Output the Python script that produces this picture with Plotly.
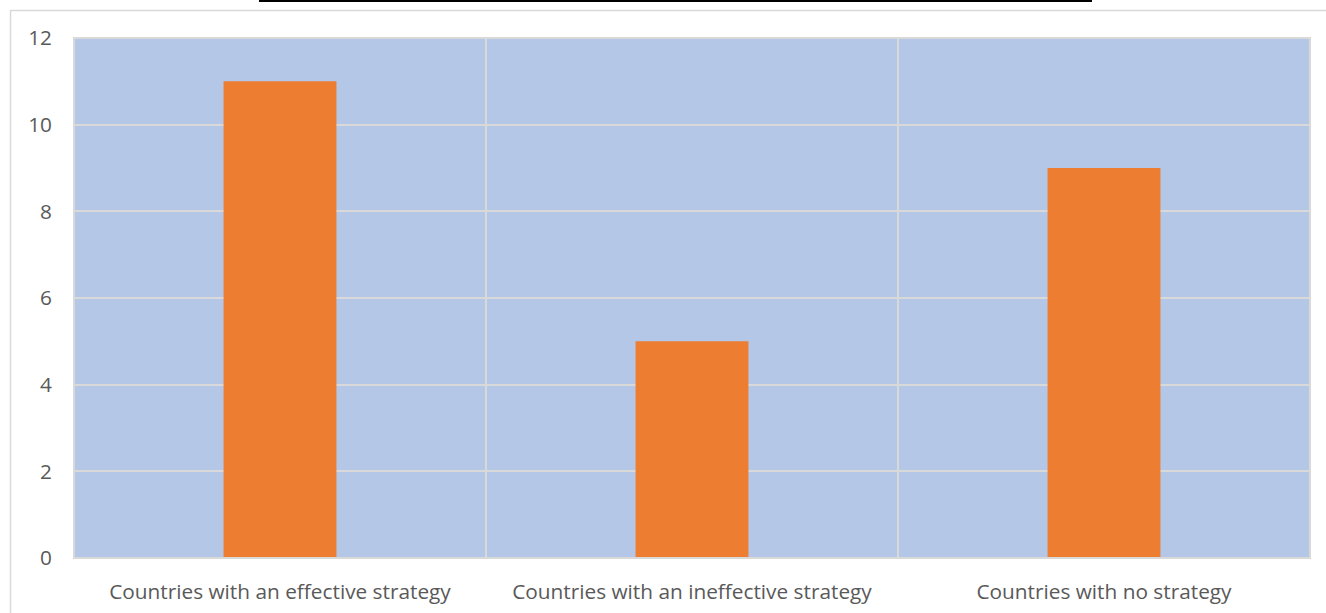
import plotly.graph_objects as go

categories = [
    "Countries with an effective strategy",
    "Countries with an ineffective strategy",
    "Countries with no strategy",
]
values = [11, 5, 9]
y_ticks = [0, 2, 4, 6, 8, 10, 12]

W, H = 1326, 613
ML, MR, MT, MB = 74, 16, 38, 55
PW, PH = W - ML - MR, H - MT - MB


def px_x(px):
    return (px - ML) / PW


def px_y(py):
    return (H - MB - py) / PH


fig = go.Figure(
    go.Bar(
        x=categories,
        y=values,
        width=0.274,
        marker=dict(color="#ED7D31", line=dict(width=0)),
        hoverinfo="x+y",
    )
)

label_font = dict(family="'Open Sans', Lato, sans-serif", size=20.8, color="#595959")

fig.update_layout(
    width=W,
    height=H,
    margin=dict(l=ML, r=MR, t=MT, b=MB, autoexpand=False),
    paper_bgcolor="white",
    plot_bgcolor="#B4C7E7",
    showlegend=False,
    font=label_font,
    xaxis=dict(
        tickson="boundaries",
        showgrid=True,
        gridcolor="#D9D9D9",
        gridwidth=2,
        ticks="",
        showline=False,
        zeroline=False,
        automargin=False,
        ticklabelstandoff=19,
        tickfont=label_font,
    ),
    yaxis=dict(
        range=[0, 12],
        tickvals=y_ticks,
        showgrid=True,
        gridcolor="#D9D9D9",
        gridwidth=2,
        ticks="",
        zeroline=False,
        showline=False,
        automargin=False,
        ticklabelstandoff=21,
        tickfont=label_font,
    ),
    shapes=[
        # plot-area border
        dict(type="rect", xref="paper", yref="paper", x0=0, x1=1, y0=0, y1=1,
             line=dict(color="#D9D9D9", width=2), layer="above"),
        # outer chart frame
        dict(type="rect", xref="paper", yref="paper",
             x0=px_x(10.5), x1=px_x(1340), y0=px_y(640), y1=px_y(10.5),
             line=dict(color="#D9D9D9", width=1.5), layer="below"),
        # rule above the chart
        dict(type="line", xref="paper", yref="paper",
             x0=px_x(259), x1=px_x(1092), y0=px_y(1), y1=px_y(1),
             line=dict(color="black", width=2)),
    ],
)

fig.write_html("out.html")
